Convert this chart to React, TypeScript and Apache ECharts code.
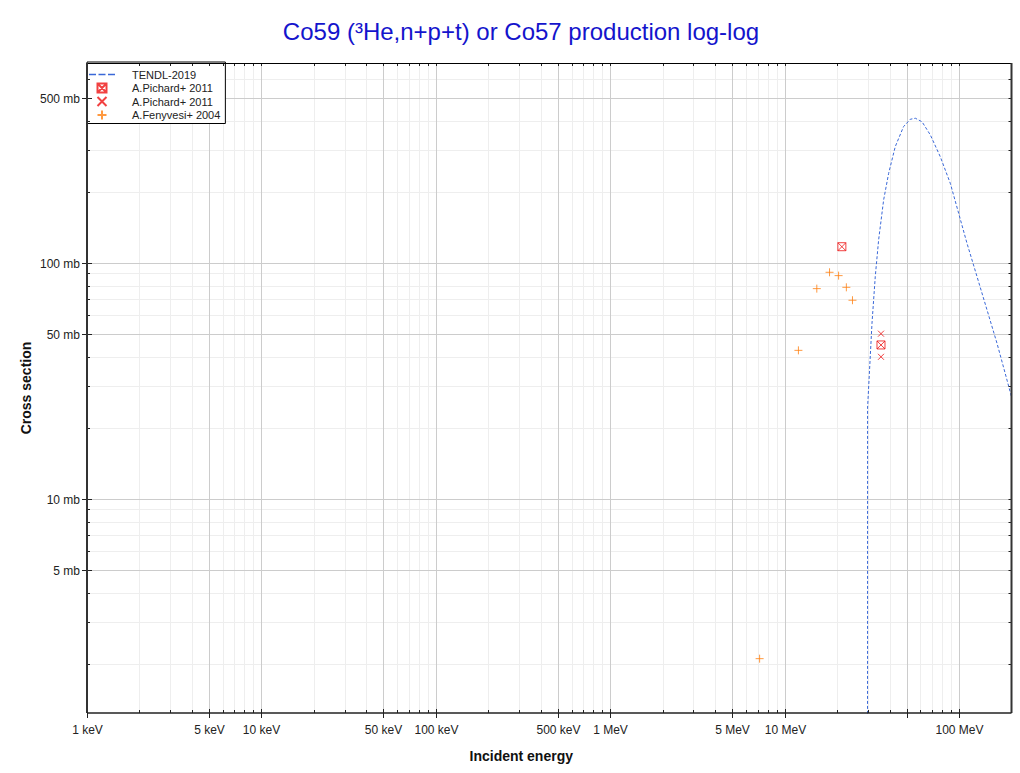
import React, { useEffect, useRef } from 'react';
import * as echarts from 'echarts';

const FONT = '"Liberation Sans", Arial, Helvetica, sans-serif';

const TITLE = 'Co59 (³He,n+p+t) or Co57 production log-log';
const X_TITLE = 'Incident energy';
const Y_TITLE = 'Cross section';

// axis ranges (energy in MeV, cross section in mb)
const X_MIN = 0.001;
const X_MAX = 200;
const Y_MIN = 1.236;
const Y_MAX = 701;

const X_TICKS = [0.001, 0.005, 0.01, 0.05, 0.1, 0.5, 1, 5, 10, 50, 100];
const X_TICK_LABELS = ['1 keV', '5 keV', '10 keV', '50 keV', '100 keV', '500 keV', '1 MeV', '5 MeV', '10 MeV', '', '100 MeV'];
const Y_TICKS = [5, 10, 50, 100, 500];
const Y_TICK_LABELS = ['5 mb', '10 mb', '50 mb', '100 mb', '500 mb'];

const TENDL_ENERGY = [29.85, 29.9, 31.7, 33.1, 34.6, 36.97, 39.5, 43.1, 48.1, 52.6, 56.2, 61.4, 68.5, 78.1, 89.1, 99.5, 111.1, 126.9, 144.8, 165.2, 188.5, 200];
const TENDL_XS = [0.0001, 24.2, 55.3, 87.2, 124.7, 184.3, 239, 310, 377, 405, 409, 395, 347.5, 281, 217, 162, 120.8, 87.2, 63.0, 45.5, 31.8, 27.0];

const PICHARD_BOX_ENERGY = [21.3, 35.7];
const PICHARD_BOX_XS = [116.8, 44.8];
const PICHARD_X_ENERGY = [35.7, 35.7];
const PICHARD_X_XS = [50.0, 39.9];
const FENYVESI_ENERGY = [7.19, 12.0, 15.3, 18.1, 20.4, 22.6, 24.5];
const FENYVESI_XS = [2.1, 42.5, 77.6, 91.0, 88.1, 78.6, 69.3];

const SERIES_NAMES = ['TENDL-2019', 'A.Pichard+ 2011', 'A.Pichard+ 2011 ', 'A.Fenyvesi+ 2004'];

const zip = (a: number[], b: number[]) => a.map((v, i) => [v, b[i]]);

function minorValues(min: number, max: number, majors: number[]) {
  const out: number[] = [];
  for (let k = -4; k <= 3; k++) {
    for (let m = 1; m <= 9; m++) {
      const v = +(m * Math.pow(10, k)).toPrecision(6);
      if (v > min && v < max && !majors.some((t) => Math.abs(t - v) / v < 1e-6)) out.push(v);
    }
  }
  return out;
}

const BOX_X = 'path://M0,0L10,0L10,10L0,10Z M0,0L10,10 M10,0L0,10';
const CROSS = 'path://M0,0L10,10 M10,0L0,10';
const PLUS = 'path://M5,0L5,10 M0,5L10,5';
const DASHES = 'path://M0,0h7v1.6h-7z M9.5,0h7v1.6h-7z M19,0h7v1.6h-7z';

export default function App() {
  const ref = useRef<HTMLDivElement>(null);

  useEffect(() => {
    const chart = echarts.init(ref.current as HTMLDivElement, null, { renderer: 'svg' });
    const X_MINOR = minorValues(X_MIN, X_MAX, X_TICKS);
    const Y_MINOR = minorValues(Y_MIN, Y_MAX, Y_TICKS);

    const helpers = (params: any, api: any) => {
      const cs = params.coordSys;
      const L = cs.x, T = cs.y, R = cs.x + cs.width, B = cs.y + cs.height;
      const px = (v: number) => Math.round(api.coord([v, Y_MIN])[0]) + 0.5;
      const py = (v: number) => Math.round(api.coord([X_MIN, v])[1]) + 0.5;
      return { L, T, R, B, px, py };
    };

    const gridLayer = (params: any, api: any) => {
      const { L, T, R, B, px, py } = helpers(params, api);
      const ch: any[] = [];
      const vline = (v: number, c: string) =>
        ch.push({ type: 'line', shape: { x1: px(v), y1: T, x2: px(v), y2: B }, style: { stroke: c, lineWidth: 1 } });
      const hline = (v: number, c: string) =>
        ch.push({ type: 'line', shape: { x1: L, y1: py(v), x2: R, y2: py(v) }, style: { stroke: c, lineWidth: 1 } });
      X_MINOR.forEach((v) => vline(v, '#eeeeee'));
      Y_MINOR.forEach((v) => hline(v, '#eeeeee'));
      X_TICKS.forEach((v) => vline(v, '#cccccc'));
      Y_TICKS.forEach((v) => hline(v, '#cccccc'));
      return { type: 'group', children: ch };
    };

    const frameLayer = (params: any, api: any) => {
      const { L, T, R, B, px, py } = helpers(params, api);
      const ch: any[] = [];
      const seg = (x1: number, y1: number, x2: number, y2: number, w: number, c: string) =>
        ch.push({ type: 'line', shape: { x1, y1, x2, y2 }, style: { stroke: c, lineWidth: w } });
      X_TICKS.forEach((v, i) => {
        const x = px(v);
        seg(x, B - 4, x, B + 5, 1, '#222');
        seg(x, T, x, T + 3, 1, '#222');
        if (X_TICK_LABELS[i]) {
          ch.push({
            type: 'text',
            style: { text: X_TICK_LABELS[i], x, y: B + 17, align: 'center', verticalAlign: 'middle', fill: '#222', fontSize: 12, fontFamily: FONT },
          });
        }
      });
      X_MINOR.forEach((v) => {
        const x = px(v);
        seg(x, B - 3, x, B, 1, '#222');
        seg(x, T, x, T + 3, 1, '#222');
      });
      Y_TICKS.forEach((v, i) => {
        const y = py(v);
        seg(L - 5, y, L + 5, y, 1, '#222');
        seg(R - 3, y, R, y, 1, '#222');
        ch.push({
          type: 'text',
          style: { text: Y_TICK_LABELS[i], x: L - 7, y, align: 'right', verticalAlign: 'middle', fill: '#222', fontSize: 12, fontFamily: FONT },
        });
      });
      Y_MINOR.forEach((v) => {
        const y = py(v);
        seg(L, y, L + 3, y, 1, '#222');
        seg(R - 3, y, R, y, 1, '#222');
      });
      seg(L, T + 0.5, R, T + 0.5, 1, '#000');
      seg(R, T, R, B, 2, '#333');
      seg(L, T, L, B, 2, '#333');
      seg(L, B, R, B, 1.5, '#222');
      return { type: 'group', children: ch };
    };

    chart.setOption({
      animation: false,
      backgroundColor: '#ffffff',
      title: {
        text: TITLE,
        left: 521,
        top: 19,
        padding: 0,
        textAlign: 'center',
        textStyle: { color: '#1414cc', fontSize: 24, fontWeight: 'normal', fontFamily: FONT },
      },
      grid: { left: 87, right: 8.5, top: 63, bottom: 60, containLabel: false },
      legend: {
        orient: 'vertical',
        left: 87,
        top: 62,
        itemWidth: 26,
        itemHeight: 9,
        itemGap: 2.5,
        padding: [7, 5, 3, 2],
        backgroundColor: '#ffffff',
        borderColor: '#000000',
        borderWidth: 1,
        borderRadius: 0,
        formatter: (name: string) => name.trim(),
        textStyle: { fontSize: 11, color: '#222', fontFamily: FONT, padding: [0, 0, 0, 12] },
        data: [
          { name: SERIES_NAMES[0], icon: DASHES },
          { name: SERIES_NAMES[1], icon: BOX_X },
          { name: SERIES_NAMES[2], icon: CROSS },
          { name: SERIES_NAMES[3], icon: PLUS },
        ],
      },
      xAxis: {
        type: 'log',
        logBase: 10,
        min: X_MIN,
        max: X_MAX,
        name: X_TITLE,
        nameLocation: 'middle',
        nameGap: 36,
        nameTextStyle: { fontSize: 14, fontWeight: 'bold', color: '#111', fontFamily: FONT, padding: [0, 56, 0, 0] },
        axisLine: { show: false },
        axisTick: { show: false },
        axisLabel: { show: false },
        splitLine: { show: false },
      },
      yAxis: {
        type: 'log',
        logBase: 10,
        min: Y_MIN,
        max: Y_MAX,
        name: Y_TITLE,
        nameLocation: 'middle',
        nameGap: 54,
        nameRotate: 90,
        nameTextStyle: { fontSize: 14, fontWeight: 'bold', color: '#111', fontFamily: FONT },
        axisLine: { show: false },
        axisTick: { show: false },
        axisLabel: { show: false },
        splitLine: { show: false },
      },
      series: [
        {
          type: 'custom',
          name: 'grid-lines',
          coordinateSystem: 'cartesian2d',
          silent: true,
          z: 1,
          data: [[1, 10]],
          renderItem: gridLayer,
        },
        {
          type: 'line',
          name: SERIES_NAMES[0],
          data: zip(TENDL_ENERGY, TENDL_XS),
          showSymbol: false,
          symbol: 'none',
          clip: true,
          z: 3,
          itemStyle: { color: '#3a68d8' },
          lineStyle: { color: '#3a68d8', width: 1, type: [3, 2] },
        },
        {
          type: 'scatter',
          name: SERIES_NAMES[1],
          data: zip(PICHARD_BOX_ENERGY, PICHARD_BOX_XS),
          symbol: BOX_X,
          symbolSize: 8,
          z: 4,
          itemStyle: { color: 'rgba(0,0,0,0)', borderColor: '#ee1111', borderWidth: 1 },
        },
        {
          type: 'scatter',
          name: SERIES_NAMES[2],
          data: zip(PICHARD_X_ENERGY, PICHARD_X_XS),
          symbol: CROSS,
          symbolSize: 6,
          z: 4,
          itemStyle: { color: 'rgba(0,0,0,0)', borderColor: '#ee1111', borderWidth: 1 },
        },
        {
          type: 'scatter',
          name: SERIES_NAMES[3],
          data: zip(FENYVESI_ENERGY, FENYVESI_XS),
          symbol: PLUS,
          symbolSize: 8,
          z: 4,
          itemStyle: { color: 'rgba(0,0,0,0)', borderColor: '#ff8010', borderWidth: 1 },
        },
        {
          type: 'custom',
          name: 'frame',
          coordinateSystem: 'cartesian2d',
          silent: true,
          z: 5,
          data: [[1, 10]],
          renderItem: frameLayer,
        },
      ],
    });

    return () => chart.dispose();
  }, []);

  return (
    <div
      ref={ref}
      style={{ position: 'absolute', left: 0, top: 0, width: 1020, height: 773, background: '#fff' }}
    />
  );
}
